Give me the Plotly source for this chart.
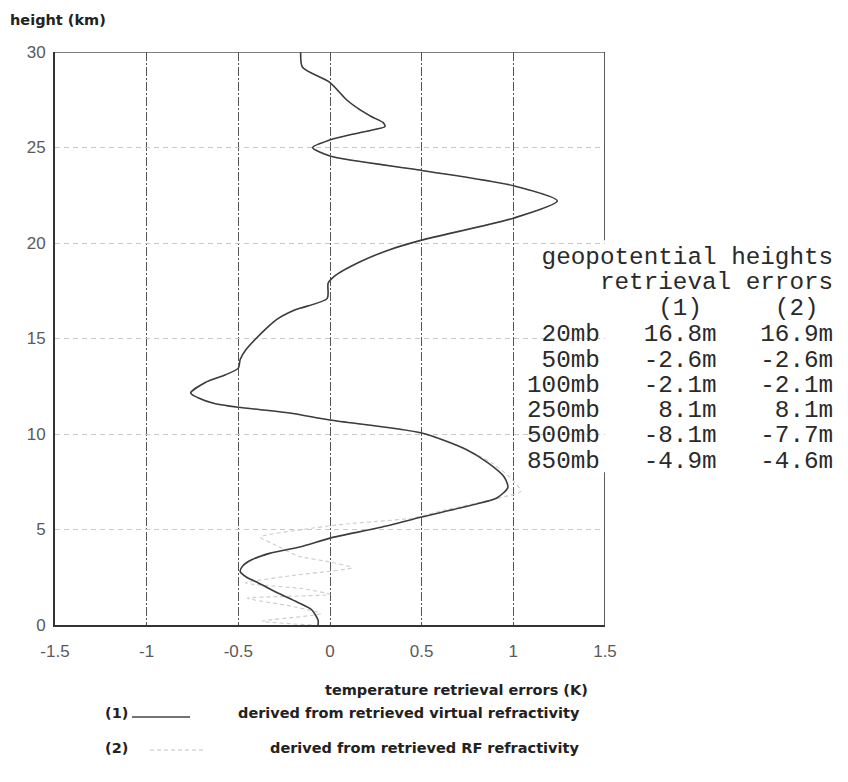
import plotly.graph_objects as go

# ---------------- data ----------------
height_1 = [0.0, 0.25, 0.8, 1.2, 1.7, 2.25, 2.5, 2.8, 3.1, 3.4, 3.75, 4.1, 4.55, 5.1, 5.65, 6.3,
            6.65, 7.2, 7.75, 8.5, 9.2, 10.05, 10.73, 11.1, 11.4, 11.6, 11.9, 12.15, 12.7, 13.1,
            13.45, 13.9, 14.4, 15.5, 16.0, 16.5, 17.1, 17.9, 18.3, 18.95, 19.6, 20.15, 21.3,
            22.2, 23.0, 23.8, 24.55, 25.0, 25.4, 25.75, 25.95, 26.1, 26.3, 26.6, 27.0, 27.5,
            28.4, 29.2, 30.0]
temp_err_1 = [-0.065, -0.065, -0.10, -0.18, -0.29, -0.40, -0.455, -0.49, -0.475, -0.43, -0.33,
              -0.16, 0.0, 0.27, 0.50, 0.78, 0.91, 0.97, 0.95, 0.86, 0.74, 0.50, 0.0, -0.22, -0.50,
              -0.63, -0.72, -0.76, -0.68, -0.57, -0.50, -0.49, -0.46, -0.35, -0.29, -0.19, -0.015,
              -0.01, 0.03, 0.15, 0.31, 0.50, 1.00, 1.24, 1.00, 0.50, 0.0, -0.095, 0.0, 0.15, 0.25,
              0.30, 0.29, 0.23, 0.16, 0.09, 0.0, -0.15, -0.16]

height_2 = [0.0, 0.2, 0.6, 1.0, 1.4, 1.6, 1.9, 2.2, 2.6, 3.0, 3.3, 3.6, 4.2, 4.6, 5.0, 5.3,
            5.6, 6.0, 6.6, 7.0, 7.75, 8.5, 9.2, 10.05, 10.73, 11.1, 11.4, 11.6, 11.9, 12.15,
            12.7, 13.1, 13.45, 13.9, 14.4, 15.5, 16.0, 16.5, 17.1, 17.9, 18.3, 18.95, 19.6,
            20.15, 21.3, 22.2, 23.0, 23.8, 24.55, 25.0, 25.4, 25.75, 25.95, 26.1, 26.3, 26.6,
            27.0, 27.5, 28.4, 29.2, 30.0]
temp_err_2 = [-0.10, -0.37, -0.05, -0.22, -0.45, 0.0, -0.15, -0.46, -0.20, 0.12, 0.0, -0.17,
              -0.30, -0.38, -0.15, 0.10, 0.45, 0.62, 0.90, 1.04, 0.98, 0.88, 0.74, 0.50, 0.0,
              -0.22, -0.50, -0.63, -0.72, -0.76, -0.68, -0.57, -0.50, -0.49, -0.46, -0.35,
              -0.29, -0.19, -0.015, -0.01, 0.03, 0.15, 0.31, 0.50, 1.00, 1.24, 1.00, 0.50, 0.0,
              -0.095, 0.0, 0.15, 0.25, 0.30, 0.29, 0.23, 0.16, 0.09, 0.0, -0.15, -0.16]

x_ticks = [-1.5, -1, -0.5, 0, 0.5, 1, 1.5]
x_tick_labels = ["-1.5", "-1", "-0.5", "0", "0.5", "1", "1.5"]
y_ticks = [0, 5, 10, 15, 20, 25, 30]

levels = ["20mb", "50mb", "100mb", "250mb", "500mb", "850mb"]
geo_err_1 = ["16.8m", "-2.6m", "-2.1m", "8.1m", "-8.1m", "-4.9m"]
geo_err_2 = ["16.9m", "-2.6m", "-2.1m", "8.1m", "-7.7m", "-4.6m"]

# ---------------- figure ----------------
PAGE_W, PAGE_H = 848, 782
OFF = 8  # default body margin of the html page
L, R, T, B = 55, 605, 52, 625  # plot area in page pixels


def px(x):
    return (x - L) / (R - L)


def py(y):
    return (B - y) / (B - T)


fig = go.Figure()
fig.add_trace(go.Scatter(x=temp_err_2, y=height_2, mode="lines",
                         line=dict(color="#cccccc", width=1.1, dash="4px,3px", shape="spline",
                                   smoothing=0.6),
                         showlegend=False, hoverinfo="skip"))
fig.add_trace(go.Scatter(x=temp_err_1, y=height_1, mode="lines",
                         line=dict(color="#3c3c3c", width=1.6, shape="spline", smoothing=0.7),
                         showlegend=False, hoverinfo="skip"))

tick_font = dict(family="Liberation Sans, Arial, sans-serif", size=17, color="#5a5a5a")
fig.update_xaxes(range=[-1.5, 1.5], tickvals=x_ticks, ticktext=x_tick_labels,
                 showgrid=True, gridcolor="#555555", gridwidth=1.2, griddash="9px,2px,2px,2px",
                 zeroline=False, showline=True, linecolor="#333333", linewidth=1.8,
                 ticks="", tickfont=tick_font, ticklabelstandoff=10)
fig.update_yaxes(range=[0, 30], tickvals=y_ticks,
                 showgrid=True, gridcolor="#c8c8c8", gridwidth=1, griddash="5px,4px",
                 zeroline=False, showline=True, linecolor="#333333", linewidth=2,
                 ticks="", tickfont=tick_font, ticklabelstandoff=4)

shapes = [
    # top border
    dict(type="line", xref="x", yref="y", x0=-1.5, x1=1.5, y0=30, y1=30,
         line=dict(color="#555555", width=1.6)),
    # right border (interrupted by the table)
    dict(type="line", xref="x", yref="y", x0=1.5, x1=1.5, y0=20.15, y1=30,
         line=dict(color="#333333", width=1.6)),
    dict(type="line", xref="x", yref="y", x0=1.5, x1=1.5, y0=0, y1=8.0,
         line=dict(color="#333333", width=1.6)),
    # legend samples
    dict(type="line", xref="paper", yref="paper", x0=px(132), x1=px(190), y0=py(717), y1=py(717),
         line=dict(color="#444444", width=1.6)),
    dict(type="line", xref="paper", yref="paper", x0=px(150), x1=px(205), y0=py(750), y1=py(750),
         line=dict(color="#c4c4c4", width=1.2, dash="4px,3px")),
]

lab_font = dict(family="DejaVu Sans, sans-serif", size=14.5, color="#222222")
ann = [
    dict(text="<b>height (km)</b>", x=px(8), y=py(20), xanchor="left", yanchor="middle",
         font=lab_font),
    dict(text="<b>temperature retrieval errors (K)</b>", x=px(456), y=py(690), xanchor="center",
         yanchor="middle", font=lab_font),
    dict(text="<b>(1)</b>", x=px(103), y=py(713), xanchor="left", yanchor="middle", font=lab_font),
    dict(text="<b>derived from retrieved virtual refractivity</b>", x=px(409), y=py(713),
         xanchor="center", yanchor="middle", font=lab_font),
    dict(text="<b>(2)</b>", x=px(103), y=py(748), xanchor="left", yanchor="middle", font=lab_font),
    dict(text="<b>derived from retrieved RF refractivity</b>", x=px(424), y=py(748),
         xanchor="center", yanchor="middle", font=lab_font),
]

mono = dict(family="Liberation Mono, monospace", size=24.3, color="#2a2a2a")
rows = [" geopotential heights", "     retrieval errors", "         (1)     (2) "]
for lv, e1, e2 in zip(levels, geo_err_1, geo_err_2):
    rows.append(f"{lv:>5}{e1:>8}{e2:>8}")
row_y = [257, 282, 308, 335, 360, 385, 410, 435, 461]
for r, yy in zip(rows, row_y):
    ann.append(dict(text=r.replace(" ", "\u00a0"), x=px(525), y=py(yy), xanchor="left",
                    yanchor="middle", font=mono))

for a in ann:
    a.update(xref="paper", yref="paper", showarrow=False)

fig.update_layout(width=PAGE_W - OFF, height=PAGE_H - OFF,
                  margin=dict(l=L - OFF, r=PAGE_W - R, t=T - OFF, b=PAGE_H - B),
                  plot_bgcolor="white", paper_bgcolor="white",
                  shapes=shapes, annotations=ann, showlegend=False)

fig.write_html("out.html")
